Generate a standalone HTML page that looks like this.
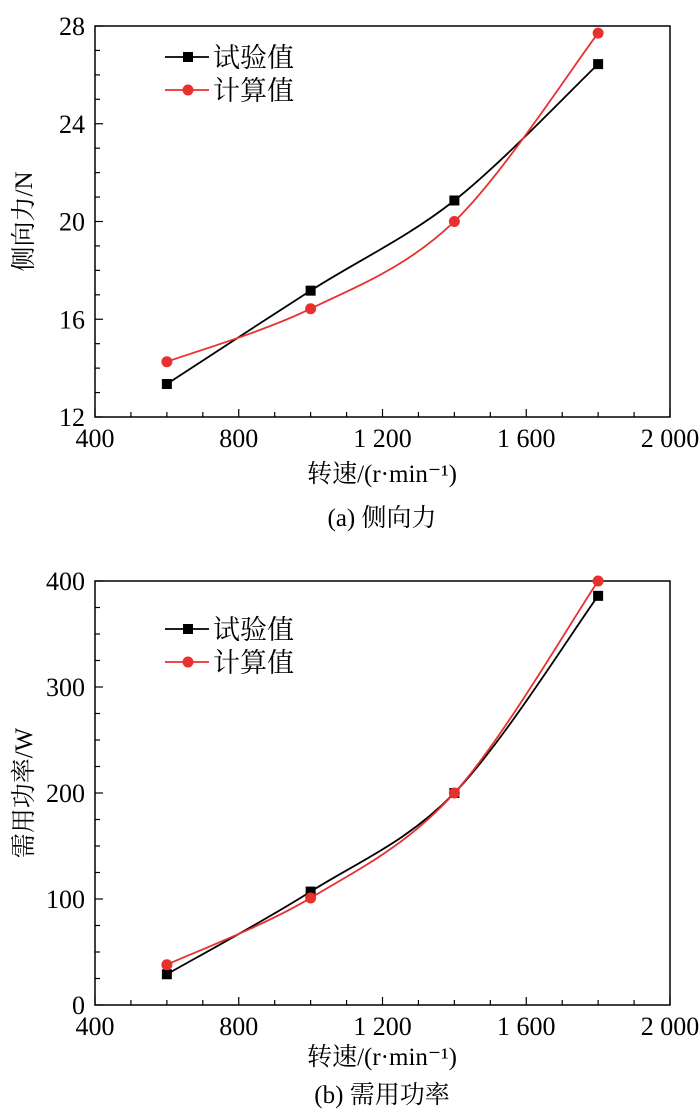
<!DOCTYPE html>
<html><head><meta charset="utf-8">
<style>
html,body{margin:0;padding:0;background:#fff;}
svg{display:block;font-family:"Liberation Serif","Noto Serif CJK SC",serif;}
</style></head>
<body>
<svg id="svg" width="700" height="1117" viewBox="0 0 700 1117"></svg>
<script>
const xCats = [600, 1000, 1400, 1800];
const forceTest = [13.35, 17.17, 20.86, 26.44];
const forceCalc = [14.26, 16.43, 20.0, 27.71];
const powerTest = [29, 107, 200, 386];
const powerCalc = [38, 101, 200, 400];
const xTickLabels = ["400", "800", "1 200", "1 600", "2 000"];
const forceTicks = ["12", "16", "20", "24", "28"];
const powerTicks = ["0", "100", "200", "300", "400"];
const legendLabels = ["试验值", "计算值"];

const NS = "http://www.w3.org/2000/svg";
const svg = document.getElementById("svg");
function mk(tag, attrs, parent) {
  const e = document.createElementNS(NS, tag);
  for (const k in attrs) e.setAttribute(k, attrs[k]);
  (parent || svg).appendChild(e);
  return e;
}
function spline(pts) {
  let d = "M" + pts[0][0] + "," + pts[0][1];
  for (let i = 0; i < pts.length - 1; i++) {
    const p0 = pts[Math.max(0, i - 1)], p1 = pts[i], p2 = pts[i + 1], p3 = pts[Math.min(pts.length - 1, i + 2)];
    const t = 1 / 6;
    const c1 = [p1[0] + (p2[0] - p0[0]) * t, p1[1] + (p2[1] - p0[1]) * t];
    const c2 = [p2[0] - (p3[0] - p1[0]) * t, p2[1] - (p3[1] - p1[1]) * t];
    d += " C" + c1[0] + "," + c1[1] + " " + c2[0] + "," + c2[1] + " " + p2[0] + "," + p2[1];
  }
  return d;
}
function chart(cfg) {
  const g = mk("g", {});
  
  
  const L = 95, R = 670, T = cfg.top, B = cfg.bottom;
  const sx = v => L + (v - 400) / 1600 * (R - L);
  const sy = v => B - (v - cfg.ymin) / (cfg.ymax - cfg.ymin) * (B - T);
  const frame = mk("rect", {x: L, y: T, width: R - L, height: B - T, fill: "none", stroke: "#000", "stroke-width": 1.5}, g);
  
  
  for (let v = 400; v <= 2000; v += 100) {
    const major = (v % 400 === 0);
    const t = mk("line", {x1: sx(v), x2: sx(v), y1: B, y2: B - (major ? 8 : 5), stroke: "#000", "stroke-width": 1.2}, g);
    
    
  }
  xTickLabels.forEach((lab, i) => {
    const tx = mk("text", {x: sx(400 + i * 400), y: B + 30, "font-size": 26, "text-anchor": "middle"}, g);
    tx.textContent = lab;
    
    
  });
  const step = (cfg.ymax - cfg.ymin) / 4, minor = step / 4;
  for (let v = cfg.ymin; v <= cfg.ymax + 1e-9; v += minor) {
    const major = Math.abs((v - cfg.ymin) / step - Math.round((v - cfg.ymin) / step)) < 1e-6;
    const t = mk("line", {x1: L, x2: L + (major ? 8 : 5), y1: sy(v), y2: sy(v), stroke: "#000", "stroke-width": 1.2}, g);
    
    
  }
  cfg.yTicks.forEach((lab, i) => {
    const tx = mk("text", {x: L - 10, y: sy(cfg.ymin + i * step) + 9, "font-size": 26, "text-anchor": "end"}, g);
    tx.textContent = lab;
    
    
  });
  const xt = mk("text", {x: 382, y: B + cfg.xtOff, "font-size": 25, "text-anchor": "middle"}, g);
  xt.textContent = "转速/(r·min⁻¹)";
  
  
  const yt = mk("text", {x: 0, y: 0, "font-size": 25, "text-anchor": "middle", transform: "translate(32," + ((T + B) / 2) + ") rotate(-90)"}, g);
  yt.textContent = cfg.ytitle;
  
  
  const cap = mk("text", {x: 382, y: B + cfg.capOff, "font-size": 25, "text-anchor": "middle"}, g);
  cap.textContent = cfg.caption;
  
  
  [[cfg.test, "#000", "sq"], [cfg.calc, "#e8312f", "ci"]].forEach(([vals, col, m], si) => {
    const pts = vals.map((v, i) => [sx(xCats[i]), sy(v)]);
    const p = mk("path", {d: spline(pts), fill: "none", stroke: col, "stroke-width": 1.8}, g);
    
    
    pts.forEach(pt => {
      let e;
      if (m === "sq") e = mk("rect", {x: pt[0] - 5, y: pt[1] - 5, width: 10, height: 10, fill: col}, g);
      else e = mk("circle", {cx: pt[0], cy: pt[1], r: 5.5, fill: col}, g);
      
      
    });
  });
  [["#000", "sq"], ["#e8312f", "ci"]].forEach(([col, m], i) => {
    const y = T + cfg.legY + i * 33;
    const lg = mk("g", {}, g);
    
    
    mk("line", {x1: 165, x2: 209, y1: y, y2: y, stroke: col, "stroke-width": 1.8}, lg);
    if (m === "sq") mk("rect", {x: 183, y: y - 5, width: 10, height: 10, fill: col}, lg);
    else mk("circle", {cx: 188, cy: y, r: 5.5, fill: col}, lg);
    const t = mk("text", {x: 213, y: y + 10, "font-size": 27, "font-family": "Noto Serif CJK SC, Noto Sans CJK SC, serif"}, lg);
    t.textContent = legendLabels[i];
  });
}
chart({name: "side-force-chart", top: 26, bottom: 417, ymin: 12, ymax: 28, yTicks: forceTicks, test: forceTest, calc: forceCalc, ytitle: "侧向力/N", caption: "(a) 侧向力", legY: 31, xtOff: 65, capOff: 109});
chart({name: "power-chart", top: 581, bottom: 1005, ymin: 0, ymax: 400, yTicks: powerTicks, test: powerTest, calc: powerCalc, ytitle: "需用功率/W", caption: "(b) 需用功率", legY: 48, xtOff: 60, capOff: 98});
</script>
</body></html>
